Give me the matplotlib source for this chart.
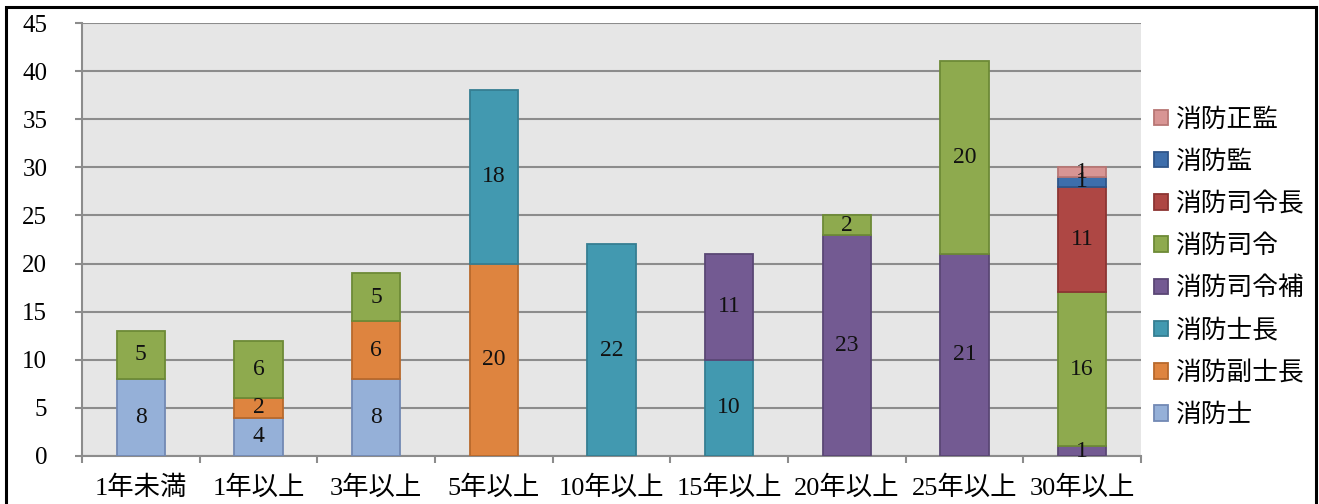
import matplotlib
matplotlib.use("Agg")
import matplotlib.pyplot as plt
import numpy as np
from matplotlib.patches import Rectangle, Patch

plt.rcParams['font.family'] = ['Liberation Serif', 'Noto Sans CJK JP']

categories = ["1年未満", "1年以上", "3年以上", "5年以上", "10年以上", "15年以上", "20年以上", "25年以上", "30年以上"]
series_names = ["消防士", "消防副士長", "消防士長", "消防司令補", "消防司令", "消防司令長", "消防監", "消防正監"]
shobo_shi      = [8, 4, 8, 0, 0, 0, 0, 0, 0]
fuku_shicho    = [0, 2, 6, 20, 0, 0, 0, 0, 0]
shicho         = [0, 0, 0, 18, 22, 10, 0, 0, 0]
shirei_ho      = [0, 0, 0, 0, 0, 11, 23, 21, 1]
shirei         = [5, 6, 5, 0, 0, 0, 2, 20, 16]
shirei_cho     = [0, 0, 0, 0, 0, 0, 0, 0, 11]
shobo_kan      = [0, 0, 0, 0, 0, 0, 0, 0, 1]
shobo_seikan   = [0, 0, 0, 0, 0, 0, 0, 0, 1]
series_values = [shobo_shi, fuku_shicho, shicho, shirei_ho, shirei, shirei_cho, shobo_kan, shobo_seikan]

fills = ["#95B0D8", "#DE843F", "#4299B0", "#735A92", "#8EAA4E", "#AE4744", "#3E6EAB", "#D89594"]
edges = ["#7289B4", "#B8692C", "#357E92", "#5A4775", "#6D8A36", "#8C3533", "#2F5589", "#B87674"]

fig = plt.figure(figsize=(13.19, 5.04), dpi=100)
ax = fig.add_axes([82/1319, 1-456/504, (1141-82)/1319, (456-23)/504])
ax.set_facecolor("#E6E6E6")

x = np.arange(len(categories))
bottom = np.zeros(len(categories))
handles = []
for name, vals, fc, ec in zip(series_names, series_values, fills, edges):
    vals = np.array(vals, dtype=float)
    mask = vals > 0
    ax.bar(x[mask], vals[mask], bottom=bottom[mask], width=0.41, color=fc, edgecolor=ec,
           linewidth=1.3, zorder=3)
    for xi, v, b in zip(x, vals, bottom):
        if v > 0:
            ax.text(xi, b + v/2, f"{int(v)}", ha="center", va="center", fontsize=17,
                    color="#111111", zorder=4)
    bottom += vals
    handles.append(Patch(facecolor=fc, edgecolor=ec, linewidth=1.3, label=name))

ax.set_xlim(-0.5, len(categories)-0.5)
ax.set_ylim(0, 45)
ax.set_yticks(np.arange(0, 46, 5))
ax.yaxis.grid(True, color="#8C8C8C", linewidth=1.5, zorder=1)
ax.set_axisbelow(True)
ax.set_xticks(x)
ax.set_xticklabels(categories, fontsize=19)
ax.set_xticks(np.arange(-0.5, len(categories), 1), minor=True)
ax.tick_params(axis="x", which="major", length=0, pad=14)
ax.tick_params(axis="x", which="minor", length=5, width=1.5, color="#8C8C8C")
ax.tick_params(axis="y", length=5, width=1.5, color="#8C8C8C", labelsize=18, pad=20)
for s in ["top", "right"]:
    ax.spines[s].set_visible(False)
ax.spines["left"].set_color("#8C8C8C")
ax.spines["left"].set_linewidth(1.5)
ax.spines["bottom"].set_color("#8C8C8C")
ax.spines["bottom"].set_linewidth(1.5)

leg = fig.legend(handles=handles[::-1], loc="upper left", bbox_to_anchor=(1144/1319, 1-98/504),
                 frameon=False, fontsize=18.5, handlelength=0.55, handleheight=0.55,
                 handletextpad=0.25, labelspacing=0.72, borderaxespad=0)

fig.patches.append(Rectangle((6/1319, -0.05), (1316-6)/1319, 1-7/504+0.05, transform=fig.transFigure,
                             fill=False, edgecolor="black", linewidth=2.2))

fig.savefig("out.png", dpi=100)
